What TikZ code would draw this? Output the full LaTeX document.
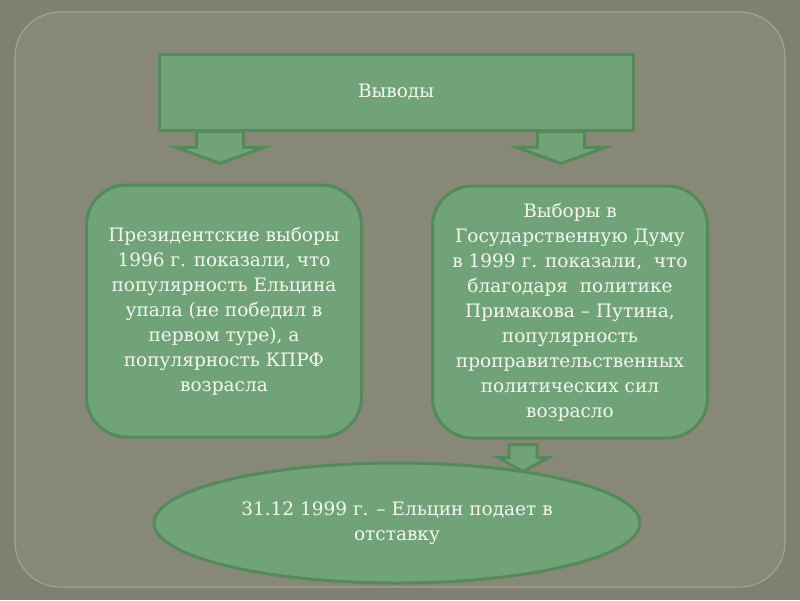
\documentclass[tikz,border=0pt]{standalone}
\usepackage{fontspec}
\setmainfont{DejaVu Serif}
\usetikzlibrary{
    positioning,
    shapes.geometric,
    shapes.arrows
}

\definecolor{slidebg}{RGB}{128,128,114}
\definecolor{framebg}{RGB}{136,136,121}
\definecolor{frameline}{RGB}{162,162,142}
\definecolor{boxfill}{RGB}{112,164,120}
\definecolor{boxline}{RGB}{84,138,90}
\definecolor{boxtext}{RGB}{246,246,240}

\begin{document}
\begin{tikzpicture}[
    x=1pt, y=-1pt,
    font=\fontsize{18.5}{25}\selectfont,
    box/.style={
        draw=boxline,
        line width=3pt,
        fill=boxfill,
        text=boxtext,
        align=center,
        inner sep=6pt
    },
    roundbox/.style={
        box,
        rounded corners=40pt,
        minimum width=275pt,
        minimum height=252pt
    },
    downarrow/.style={
        shape=single arrow,
        draw=boxline,
        fill=boxfill,
        line width=3pt,
        rotate=-90,
        anchor=tail,
        inner xsep=0pt,
        single arrow head indent=0pt
    }
]

% Set bounding box to the slide size
\useasboundingbox (0,0) rectangle (800,600);

% ================= BACKGROUND =================
\fill[slidebg] (0,0) rectangle (800,600);
\draw[frameline, fill=framebg, line width=1.2pt, rounded corners=45pt]
    (15,12) rectangle (785,587);

% ================= TITLE =================
\node[box, minimum width=474pt, minimum height=76pt] (title) at (396,92)
{Выводы};

% ---- arrows below the title
\node[downarrow, inner ysep=22pt, minimum height=32pt,
      single arrow head extend=20.5pt, single arrow tip angle=140]
    (arrL) at (220,130) {};
\node[downarrow, inner ysep=22pt, minimum height=32pt,
      single arrow head extend=20.5pt, single arrow tip angle=140]
    (arrR) at (561,130) {};

% ================= CONCLUSIONS =================
\node[roundbox] (pres) at (224,311) {
Президентские выборы\\
1996 г. показали, что\\
популярность Ельцина\\
упала (не победил в\\
первом туре), а\\
популярность КПРФ\\
возрасла
};

\node[roundbox] (duma) at (570,312) {
Выборы в\\
Государственную Думу\\
в 1999 г. показали,~ что\\
благодаря~ политике\\
Примакова – Путина,\\
популярность\\
проправительственных\\
политических сил\\
возрасло
};

% ---- arrow to the result
\node[downarrow, inner ysep=12.5pt, minimum height=27pt,
      single arrow head extend=11pt, single arrow tip angle=122]
    (arrD) at (523,443) {};

% ================= RESULT =================
\node[box, ellipse, minimum width=486pt, minimum height=120pt] (resign) at (397,523) {
31.12 1999 г. – Ельцин подает в\\
отставку
};

\end{tikzpicture}
\end{document}
